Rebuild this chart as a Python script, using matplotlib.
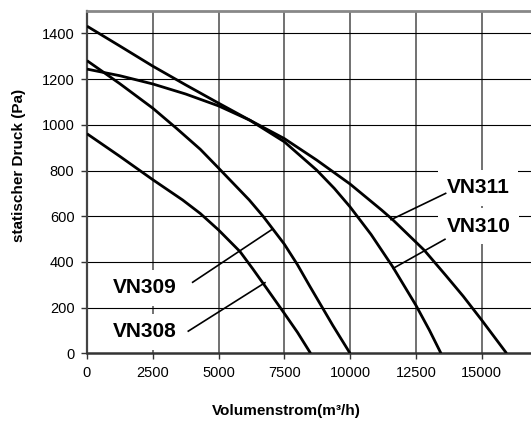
import matplotlib
matplotlib.use("Agg")
import matplotlib.pyplot as plt

plt.rcParams['font.family'] = ['Liberation Sans', 'DejaVu Sans']

# Data (Volumenstrom m3/h, statischer Druck Pa)
vn308_x = [0, 1250, 2500, 3637, 4307, 5000, 5819, 6300, 6826, 7500, 8000, 8500]
vn308_y = [961, 862, 760, 671, 612, 540, 445, 370, 285, 175, 92, 0]

vn309_x = [0, 1250, 2500, 3400, 4307, 5000, 6169, 6700, 7500, 8000, 8463, 9345, 10000]
vn309_y = [1281, 1180, 1073, 985, 893, 811, 671, 599, 478, 388, 295, 122, 0]

vn310_x = [0, 1250, 2500, 3750, 5000, 6195, 7500, 8730, 9400, 10000, 10800, 11620, 12500, 13013, 13456]
vn310_y = [1244, 1215, 1179, 1135, 1083, 1020, 926, 802, 722, 641, 520, 379, 211, 102, 0]

vn311_x = [0, 1250, 2500, 3750, 5000, 6195, 7500, 8730, 10000, 11200, 11620, 12823, 13646, 14300, 15000, 15950]
vn311_y = [1432, 1345, 1257, 1175, 1095, 1020, 940, 846, 741, 627, 585, 451, 340, 250, 146, 0]

labels = ["VN308", "VN309", "VN310", "VN311"]
label_pos = [(1000, 70), (1000, 262), (13672, 532), (13672, 700)]
leader_lines = [((3851, 97), (6766, 309)),
                ((4017, 311), (7058, 544)),
                ((13607, 499), (11643, 372)),
                ((13633, 700), (11560, 585))]

xticks = [0, 2500, 5000, 7500, 10000, 12500, 15000]
yticks = [0, 200, 400, 600, 800, 1000, 1200, 1400]

fig = plt.figure(figsize=(5.31, 4.21), dpi=100)
ax = fig.add_axes([0.1638, 0.1608, 0.867, 0.814])

for x, y in [(vn308_x, vn308_y), (vn309_x, vn309_y), (vn310_x, vn310_y), (vn311_x, vn311_y)]:
    ax.plot(x, y, color='black', lw=2.0, zorder=5, solid_capstyle='butt',
            solid_joinstyle='round')

for (a, b) in leader_lines:
    ax.plot([a[0], b[0]], [a[1], b[1]], color='black', lw=1.2, zorder=5)

for lab, (lx, ly) in zip(labels, label_pos):
    ax.text(lx, ly, lab, fontsize=15, fontweight='bold', ha='left', va='baseline',
            zorder=4, bbox=dict(facecolor='white', edgecolor='none', pad=6))

ax.set_xlim(0, 17500)
ax.set_ylim(0, 1500)
ax.set_xticks(xticks)
ax.set_yticks(yticks)
ax.tick_params(axis='both', labelsize=10.5, direction='out', length=4, width=1,
               color='#333333', pad=5)

# grid
for v in xticks[1:] + [17500]:
    ax.axvline(v, color='#666666', lw=1.3, zorder=1)
for p in yticks[1:]:
    ax.axhline(p, color='black', lw=0.8, zorder=1)

ax.spines['top'].set_color('#888888')
ax.spines['top'].set_linewidth(2)
ax.spines['right'].set_visible(False)
ax.spines['left'].set_color('#444444')
ax.spines['left'].set_linewidth(1.6)
ax.spines['bottom'].set_color('#333333')
ax.spines['bottom'].set_linewidth(1.8)

fig.text(0.54, 0.024, "Volumenstrom(m³/h)", fontsize=11, fontweight='bold',
         ha='center', va='center')
fig.text(0.036, 0.608, "statischer Druck (Pa)", fontsize=11, fontweight='bold',
         ha='center', va='center', rotation=90)

fig.savefig("out.png", dpi=100)
